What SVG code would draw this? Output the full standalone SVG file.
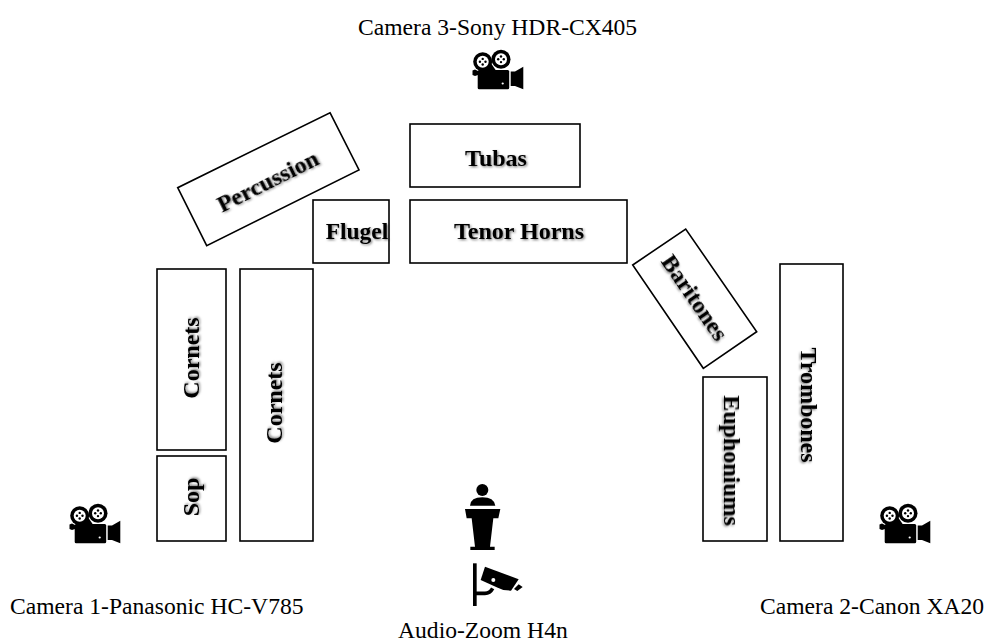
<svg xmlns="http://www.w3.org/2000/svg" width="987" height="643" viewBox="0 0 987 643">
<style>
.box{fill:#fff;stroke:#000;stroke-width:1.6}
.lab{font-family:"Liberation Serif","Times New Roman",serif;font-weight:700;font-size:24px;text-anchor:middle;fill:#000;filter:url(#sh)}
.cap{font-family:"Liberation Serif","Times New Roman",serif;font-size:23.6px;fill:#000}
</style>
<defs>
<filter id="sh" x="-20%" y="-30%" width="140%" height="170%"><feDropShadow dx="1.2" dy="1.2" stdDeviation="1" flood-color="#000" flood-opacity="0.5"/></filter>
<g id="cam">
<circle cx="482.7" cy="61.7" r="9.500"/>
<circle cx="501" cy="59.3" r="9.500"/>
<path d="M480 72 L491.500 64 L497 72Z"/>
<circle cx="482.7" cy="61.7" r="6" fill="#fff"/>
<circle cx="501" cy="59.3" r="6" fill="#fff"/>
<g id="holes1"><circle cx="482.7" cy="58.900" r="1.200"/><circle cx="482.7" cy="64.500" r="1.200"/><circle cx="479.900" cy="61.700" r="1.200"/><circle cx="485.500" cy="61.700" r="1.200"/></g>
<use href="#holes1" x="18.300" y="-2.400"/>
<rect x="477.7" y="70" width="31.500" height="19.300" rx="1.500"/>
<path d="M472.500 70.500 L475 69.500 L478 71 L478 75 L475 76 L472.500 75Z"/>
<path d="M510.700 71.500 H515 L523.300 66.700 V89.300 L515 86 H510.700Z"/>
<circle cx="502.700" cy="83.500" r="1.100" fill="#fff"/>
</g>
</defs>
<g id="connectors"/>
<g id="tubas"><rect class="box" x="410" y="124" width="170" height="63"/><text class="lab" x="496" y="166">Tubas</text></g>
<g id="percussion"><polygon class="box" points="330,112.700 359,170 206.700,245.700 177.700,187.700"/><text class="lab" transform="translate(268,182) rotate(-26.500)" x="0" y="7">Percussion</text></g>
<g id="flugel"><rect class="box" x="313" y="200" width="76" height="63"/><text class="lab" x="357" y="239" font-size="23.500" style="font-size:23.500px">Flugel</text></g>
<g id="tenor-horns"><rect class="box" x="410" y="200" width="217" height="63"/><text class="lab" x="519" y="239">Tenor Horns</text></g>
<g id="baritones"><polygon class="box" points="632.700,265 685.700,229 756.700,331.700 703.300,368.300"/><text class="lab" transform="translate(694,298) rotate(55.500)" x="0" y="7">Baritones</text></g>
<g id="cornets-1"><rect class="box" x="157" y="269" width="69" height="181"/><text class="lab" transform="translate(192,358) rotate(-90)" x="0" y="7">Cornets</text></g>
<g id="sop"><rect class="box" x="157" y="456" width="69" height="85"/><text class="lab" transform="translate(192,497) rotate(-90)" x="0" y="7">Sop</text></g>
<g id="cornets-2"><rect class="box" x="240" y="269" width="73" height="272"/><text class="lab" transform="translate(275,403) rotate(-90)" x="0" y="7">Cornets</text></g>
<g id="euphoniums"><rect class="box" x="703" y="377" width="64" height="164"/><text class="lab" transform="translate(731,460.500) rotate(90)" x="0" y="7">Euphoniums</text></g>
<g id="trombones"><rect class="box" x="780" y="264" width="63" height="277"/><text class="lab" transform="translate(808,405) rotate(90)" x="0" y="7">Trombones</text></g>
<g id="camera-3"><use href="#cam"/><text class="cap" x="358" y="35">Camera 3-Sony HDR-CX405</text></g>
<g id="camera-1"><use href="#cam" x="-403" y="454"/><text class="cap" x="10" y="614">Camera 1-Panasonic HC-V785</text></g>
<g id="camera-2"><use href="#cam" x="407" y="454"/><text class="cap" x="760" y="614">Camera 2-Canon XA20</text></g>
<g id="conductor" transform="translate(440,470) scale(.3333)">
<circle cx="127" cy="60" r="18"/>
<path d="M90 107 Q92 82 127 82 Q162 82 166 107Z"/>
<path d="M75 117 H181 L175 145 H160 L150 230 H164 V240 H91 V230 H105 L95 145 H80Z"/>
</g>
<g id="audio-zoom"><g transform="translate(440,470) scale(.3333)">
<rect x="99" y="280" width="11" height="128"/>
<path d="M105 370 H135 Q150 370 158 355" fill="none" stroke="#000" stroke-width="11"/>
<path d="M135 290 L236 328 L213 362 L190 360 L170 352 L122 330Z"/>
<circle cx="160" cy="330" r="6" fill="#fff"/>
<path d="M222 357 L236 343 L248 351 L232 363Z"/>
</g><text class="cap" x="398" y="637.500">Audio-Zoom H4n</text></g>
</svg>
